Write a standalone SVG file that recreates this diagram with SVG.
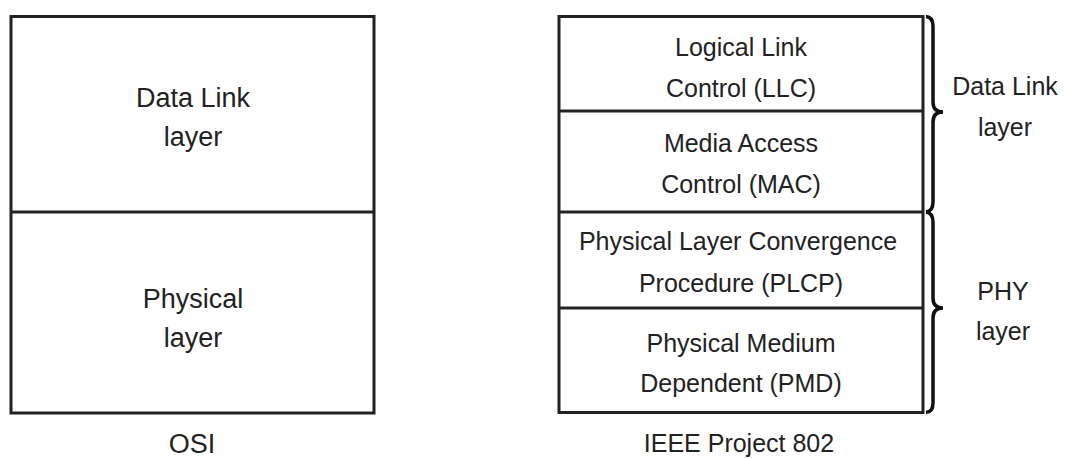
<svg xmlns="http://www.w3.org/2000/svg" width="1073" height="459" viewBox="0 0 1073 459">
<style>
.box{fill:#fff;stroke:#222;stroke-width:3}
.div{stroke:#222;stroke-width:3}
.brace{fill:none;stroke:#111;stroke-width:3.5}
text{font-family:"Liberation Sans",Arial,sans-serif;font-size:25px;fill:#222;text-anchor:middle}
.big{font-size:27px}
</style>
<rect width="1073" height="459" fill="#fff"/>
<g id="osi">
<rect class="box" x="11" y="16.5" width="363" height="396.5"/>
<line class="div" x1="11" y1="212" x2="374" y2="212"/>
<g id="osi-datalink"><text class="big" x="193" y="107">Data Link</text><text class="big" x="193" y="146">layer</text></g>
<g id="osi-physical"><text class="big" x="193" y="308">Physical</text><text class="big" x="193" y="347">layer</text></g>
<text id="osi-label" class="big" x="192" y="453">OSI</text>
</g>
<g id="ieee">
<rect class="box" x="559" y="16.5" width="364" height="396"/>
<line class="div" x1="559" y1="111" x2="923" y2="111"/>
<line class="div" x1="559" y1="212" x2="923" y2="212"/>
<line class="div" x1="559" y1="308" x2="923" y2="308"/>
<g id="llc"><text x="741" y="56">Logical Link</text><text x="741" y="97">Control (LLC)</text></g>
<g id="mac"><text x="741" y="152">Media Access</text><text x="741" y="193">Control (MAC)</text></g>
<g id="plcp"><text x="738" y="250">Physical Layer Convergence</text><text x="741" y="292">Procedure (PLCP)</text></g>
<g id="pmd"><text x="741" y="352">Physical Medium</text><text x="741" y="392">Dependent (PMD)</text></g>
<text id="ieee-label" x="739" y="452">IEEE Project 802</text>
</g>
<g id="connectors">
<path class="brace" d="M926,16.5 Q933,17 933,26 L933,102 Q933,112 943,112 Q933,112 933,122 L933,202 Q933,211 926,212"/>
<path class="brace" d="M926,212 Q933,213 933,222 L933,298 Q933,308 943,308 Q933,308 933,318 L933,403 Q933,412 926,412.5"/>
</g>
<g id="datalink-label"><text x="1005" y="95">Data Link</text><text x="1005" y="136">layer</text></g>
<g id="phy-label"><text x="1003" y="300">PHY</text><text x="1003" y="340">layer</text></g>
</svg>
